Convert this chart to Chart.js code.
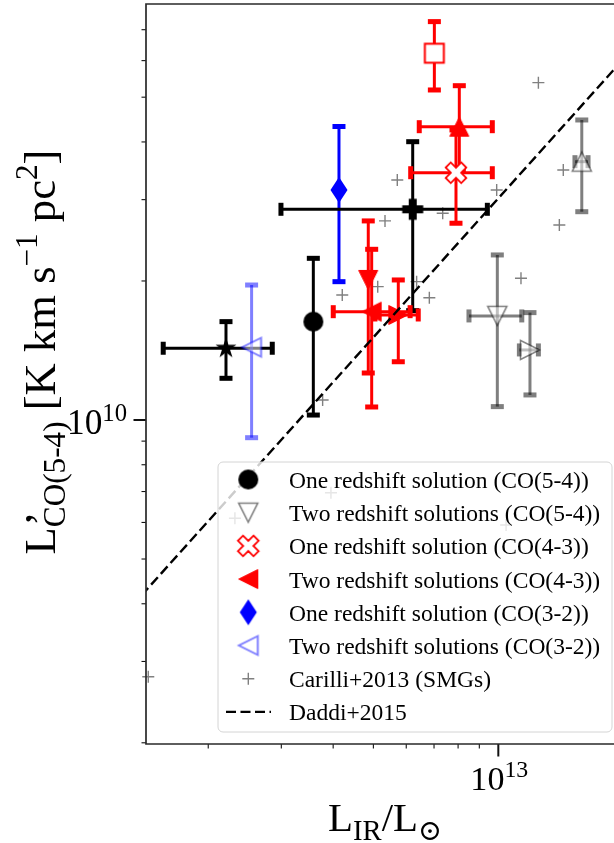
<!DOCTYPE html>
<html>
<head>
<meta charset="utf-8">
<script src="https://cdn.jsdelivr.net/npm/chart.js@4.4.0/dist/chart.umd.min.js"></script>
<style>
  html, body { margin: 0; padding: 0; background: #fff; overflow: hidden; }
  canvas { display: block; }
</style>
</head>
<body>
<canvas id="chart" width="614" height="843"></canvas>
<script>
// axis limits and ticks (log scales)
const xMin = 1.416e12, xMax = 1.90e13;
const yMin = 1.988e9, yMax = 7.957e10;
const xMajorTicks = [1e13];
const xMinorTicks = [2e12, 3e12, 4e12, 5e12, 6e12, 7e12, 8e12, 9e12];
const yMajorTicks = [1e10];
const yMinorTicks = [2e9, 3e9, 4e9, 5e9, 6e9, 7e9, 8e9, 9e9, 2e10, 3e10, 4e10, 5e10, 6e10, 7e10];

// black star (no legend entry)
const starX = [2.207e12], starY = [1.430e10];
const starXErr = [[1.558e12, 2.853e12]], starYErr = [[1.231e10, 1.633e10]];

// one redshift solution, CO(5-4)
const one54X = [3.583e12], one54Y = [1.633e10];
const one54YErr = [[1.025e10, 2.239e10]];

// black filled plus
const plusX = [6.219e12], plusY = [2.859e10];
const plusXErr = [[2.994e12, 9.41e12]], plusYErr = [[1.725e10, 4.005e10]];

// one redshift solution, CO(3-2)
const one32X = [4.131e12], one32Y = [3.148e10];
const one32YErr = [[1.993e10, 4.32e10]];

// two redshift solutions, CO(3-2)
const two32X = [2.544e12], two32Y = [1.437e10];
const two32YErr = [[9.155e9, 1.960e10]];

// red open square
const squareX = [7.013e12], squareY = [6.225e10];
const squareYErr = [[5.183e10, 7.288e10]];

// one redshift solution, CO(4-3)
const one43X = [7.907e12], one43Y = [3.431e10];
const one43XErr = [[6.150e12, 9.672e12]], one43YErr = [[2.667e10, 4.246e10]];

// two redshift solutions, CO(4-3): up, down, left, right triangles
const upRedX = [8.054e12], upRedY = [4.316e10];
const upRedXErr = [[6.449e12, 9.672e12]], upRedYErr = [[3.478e10, 5.295e10]];
const downRedX = [4.86e12], downRedY = [2.010e10];
const downRedYErr = [[1.264e10, 2.698e10]];
const leftRedX = [4.953e12], leftRedY = [1.716e10];
const leftRedXErr = [[4.002e12, 6.13e12]], leftRedYErr = [[1.067e10, 2.342e10]];
const rightRedX = [5.741e12], rightRedY = [1.688e10];
const rightRedXErr = [[5.044e12, 6.413e12]], rightRedYErr = [[1.337e10, 2.010e10]];

// two redshift solutions, CO(5-4): grey open triangles
const downGreyX = [9.945e12], downGreyY = [1.680e10];
const downGreyXErr = [[8.498e12, 1.139e13]], downGreyYErr = [[1.069e10, 2.277e10]];
const rightGreyX = [1.192e13], rightGreyY = [1.418e10];
const rightGreyXErr = [[1.124e13, 1.249e13]], rightGreyYErr = [[1.133e10, 1.708e10]];
const upGreyX = [1.589e13], upGreyY = [3.625e10];
const upGreyXErr = [[1.530e13, 1.645e13]], upGreyYErr = [[2.825e10, 4.463e10]];

// Carilli+2013 SMGs
const carX = [1.249e13, 1.434e13, 1.403e13, 9.91e12, 5.709e12, 7.345e12, 5.333e12, 4.207e12, 5.122e12,
              6.356e12, 6.820e12, 1.134e13, 3.773e12, 3.951e12, 2.319e12, 1.044e13, 1.434e12];
const carY = [5.376e10, 3.478e10, 2.644e10, 3.148e10, 3.309e10, 2.803e10, 2.698e10, 1.865e10, 1.944e10,
              1.993e10, 1.840e10, 2.027e10, 1.105e10, 6.96e9, 6.125e9, 5.925e9, 2.780e9];

// Daddi+2015 relation, end points
const daddiX = [1.0e12, 2.0e13];
const daddiY = [3.02e9, 6.04e10];

const legendLabels = [
  'One redshift solution (CO(5-4))',
  'Two redshift solutions (CO(5-4))',
  'One redshift solution (CO(4-3))',
  'Two redshift solutions (CO(4-3))',
  'One redshift solution (CO(3-2))',
  'Two redshift solutions (CO(3-2))',
  'Carilli+2013 (SMGs)',
  'Daddi+2015'
];

const FONT = '"Liberation Serif", "DejaVu Serif", serif';
const RED = '#ff0000', BLUE = '#0000ff';
const GREY = 'rgba(0,0,0,0.5)', LIGHTBLUE = 'rgba(0,0,255,0.5)';

// ---- marker images ----
function marker(size, draw) {
  const c = document.createElement('canvas');
  c.width = size; c.height = size;
  const g = c.getContext('2d');
  g.translate(size / 2, size / 2);
  g.lineJoin = 'miter';
  draw(g);
  return c;
}
function triPath(g, r) {
  g.beginPath(); g.moveTo(0, -r); g.lineTo(r, r); g.lineTo(-r, r); g.closePath();
}
function plusPath(g, a, b) {
  const pts = [[-b,-a],[b,-a],[b,-b],[a,-b],[a,b],[b,b],[b,a],[-b,a],[-b,b],[-a,b],[-a,-b],[-b,-b]];
  g.beginPath();
  pts.forEach((p, i) => i ? g.lineTo(p[0], p[1]) : g.moveTo(p[0], p[1]));
  g.closePath();
}
const mCircle = marker(26, g => { g.beginPath(); g.arc(0, 0, 10, 0, Math.PI * 2); g.fillStyle = '#000'; g.fill(); });
const mStar = marker(26, g => {
  g.beginPath();
  for (let i = 0; i < 10; i++) {
    const a = -Math.PI / 2 + i * Math.PI / 5, r = i % 2 ? 4.2 : 11;
    g.lineTo(r * Math.cos(a), r * Math.sin(a));
  }
  g.closePath(); g.fillStyle = '#000'; g.fill();
});
const mPlus = marker(26, g => { plusPath(g, 10.5, 4); g.fillStyle = '#000'; g.fill(); });
const mX = marker(30, g => {
  g.rotate(Math.PI / 4); plusPath(g, 11, 3.6);
  g.fillStyle = '#fff'; g.fill(); g.lineWidth = 1.8; g.strokeStyle = RED; g.stroke();
});
const mDiamond = marker(32, g => {
  g.beginPath(); g.moveTo(0, -13); g.lineTo(8.5, 0); g.lineTo(0, 13); g.lineTo(-8.5, 0); g.closePath();
  g.fillStyle = BLUE; g.fill();
});
const mSquare = marker(26, g => {
  g.beginPath(); g.rect(-9.5, -9.5, 19, 19);
  g.fillStyle = '#fff'; g.fill(); g.lineWidth = 2; g.strokeStyle = RED; g.stroke();
});
const mTriRed = marker(26, g => { triPath(g, 9.5); g.fillStyle = RED; g.fill(); g.lineWidth = 1; g.strokeStyle = RED; g.stroke(); });
const mTriGrey = marker(26, g => {
  triPath(g, 9.5); g.fillStyle = 'rgba(255,255,255,0.5)'; g.fill();
  g.lineWidth = 1.6; g.strokeStyle = GREY; g.stroke();
});
const mTriBlue = marker(26, g => {
  triPath(g, 9.5); g.fillStyle = 'rgba(255,255,255,0.5)'; g.fill();
  g.lineWidth = 1.8; g.strokeStyle = LIGHTBLUE; g.stroke();
});

function pts(xs, ys) { return xs.map((x, i) => ({ x: x, y: ys[i] })); }
function group(xs, ys, xe, ye, color, style, rot) {
  return { data: pts(xs, ys), errX: xe, errY: ye, errColor: color,
           pointStyle: style, pointRotation: rot || 0, pointRadius: 10, clip: false };
}

const datasets = [
  { data: pts(carX, carY), pointStyle: 'cross', pointRadius: 6, borderColor: '#808080',
    pointBorderWidth: 1.4, clip: false },
  group(starX, starY, starXErr, starYErr, '#000', mStar),
  group(two32X, two32Y, null, two32YErr, LIGHTBLUE, mTriBlue, 270),
  group(one54X, one54Y, null, one54YErr, '#000', mCircle),
  group(one32X, one32Y, null, one32YErr, BLUE, mDiamond),
  group(plusX, plusY, plusXErr, plusYErr, '#000', mPlus),
  group(downRedX, downRedY, null, downRedYErr, RED, mTriRed, 180),
  group(leftRedX, leftRedY, leftRedXErr, leftRedYErr, RED, mTriRed, 270),
  group(rightRedX, rightRedY, rightRedXErr, rightRedYErr, RED, mTriRed, 90),
  group(squareX, squareY, null, squareYErr, RED, mSquare),
  group(upRedX, upRedY, upRedXErr, upRedYErr, RED, mTriRed, 0),
  group(one43X, one43Y, one43XErr, one43YErr, RED, mX),
  group(downGreyX, downGreyY, downGreyXErr, downGreyYErr, GREY, mTriGrey, 180),
  group(rightGreyX, rightGreyY, rightGreyXErr, rightGreyYErr, GREY, mTriGrey, 90),
  group(upGreyX, upGreyY, upGreyXErr, upGreyYErr, GREY, mTriGrey, 0),
  { type: 'line', data: pts(daddiX, daddiY), borderColor: '#000', borderWidth: 2.4,
    borderDash: [10, 4.5], pointRadius: 0, fill: false, clip: 0 }
];
// first entry drawn first
datasets.forEach((d, i) => { d.order = datasets.length - i; });

const CAP = 13, CAPT = 5;
const errorBars = {
  id: 'errorBars',
  beforeDatasetDraw(chart, args) {
    const ds = chart.data.datasets[args.index];
    if (!ds.errX && !ds.errY) return;
    const { ctx, chartArea: a } = chart;
    const xs = chart.scales.x, ys = chart.scales.y;
    ctx.save();
    ctx.beginPath(); ctx.rect(a.left, a.top, a.right - a.left, a.bottom - a.top); ctx.clip();
    ctx.strokeStyle = ds.errColor; ctx.fillStyle = ds.errColor; ctx.lineWidth = 3;
    ds.data.forEach((p, i) => {
      const px = xs.getPixelForValue(p.x), py = ys.getPixelForValue(p.y);
      const caps = [];
      if (ds.errY && ds.errY[i]) {
        const lo = ys.getPixelForValue(ds.errY[i][0]), hi = ys.getPixelForValue(ds.errY[i][1]);
        ctx.beginPath(); ctx.moveTo(px, lo); ctx.lineTo(px, hi); ctx.stroke();
        caps.push([px - CAP / 2, lo - CAPT / 2, CAP, CAPT], [px - CAP / 2, hi - CAPT / 2, CAP, CAPT]);
      }
      if (ds.errX && ds.errX[i]) {
        const lo = xs.getPixelForValue(ds.errX[i][0]), hi = xs.getPixelForValue(ds.errX[i][1]);
        ctx.beginPath(); ctx.moveTo(lo, py); ctx.lineTo(hi, py); ctx.stroke();
        caps.push([lo - CAPT / 2, py - CAP / 2, CAPT, CAP], [hi - CAPT / 2, py - CAP / 2, CAPT, CAP]);
      }
      caps.forEach(c => ctx.fillRect(c[0], c[1], c[2], c[3]));
    });
    ctx.restore();
  }
};

// ---- text helpers (runs with sub/superscripts) ----
function runsWidth(ctx, runs, F) {
  let w = 0;
  runs.forEach(r => {
    ctx.font = ((r.s || 1) * F) + 'px ' + FONT;
    if (r.adv !== false) w += ctx.measureText(r.t).width;
  });
  return w;
}
function fitSize(ctx, runs, target) { return 100 * target / runsWidth(ctx, runs, 100); }
function drawRuns(ctx, runs, x, y, F, align) {
  const W = runsWidth(ctx, runs, F);
  let ox = align === 'center' ? x - W / 2 : align === 'right' ? x - W : x;
  ctx.textAlign = 'left'; ctx.textBaseline = 'alphabetic'; ctx.fillStyle = '#000';
  runs.forEach(r => {
    ctx.font = ((r.s || 1) * F) + 'px ' + FONT;
    ctx.fillText(r.t, ox + (r.dx || 0) * F, y + (r.dy || 0) * F);
    if (r.adv !== false) ox += ctx.measureText(r.t).width;
  });
}

const yTitleRuns = [
  { t: 'L' }, { t: '\u2019', adv: false, dx: 0.02 }, { t: 'CO(5-4)', s: 0.7, dy: 0.22 },
  { t: ' [K km s' }, { t: '\u22121', s: 0.7, dy: -0.4 }, { t: ' pc' }, { t: '2', s: 0.7, dy: -0.4 }, { t: ']' }
];
const xTitleRuns = [{ t: 'L' }, { t: 'IR', s: 0.7, dy: 0.22 }, { t: '/L' }, { t: '\u2299', s: 0.7, dy: 0.22 }];
const powRuns = e => [{ t: '10' }, { t: String(e), s: 0.7, dy: -0.38 }];

const frame = {
  id: 'frame',
  afterDatasetsDraw(chart) {
    const { ctx, chartArea: a } = chart;
    const xs = chart.scales.x, ys = chart.scales.y;
    ctx.save();
    // ticks
    ctx.strokeStyle = '#111';
    const tick = (x1, y1, x2, y2, w) => { ctx.lineWidth = w; ctx.beginPath(); ctx.moveTo(x1, y1); ctx.lineTo(x2, y2); ctx.stroke(); };
    xMinorTicks.forEach(v => { const p = xs.getPixelForValue(v); tick(p, a.bottom, p, a.bottom + 4.5, 1.1); });
    xMajorTicks.forEach(v => { const p = xs.getPixelForValue(v); tick(p, a.bottom, p, a.bottom + 12.5, 2); });
    yMinorTicks.forEach(v => { const p = ys.getPixelForValue(v); tick(a.left, p, a.left - 4.5, p, 1.1); });
    yMajorTicks.forEach(v => { const p = ys.getPixelForValue(v); tick(a.left, p, a.left - 12.5, p, 2); });
    // spines
    ctx.strokeStyle = '#2a2a2a'; ctx.lineWidth = 1.7;
    ctx.beginPath();
    ctx.moveTo(a.right + 2, a.top); ctx.lineTo(a.left, a.top); ctx.lineTo(a.left, a.bottom); ctx.lineTo(a.right + 2, a.bottom);
    ctx.stroke();
    // tick labels
    xMajorTicks.forEach(v => {
      const r = powRuns(Math.round(Math.log10(v)));
      drawRuns(ctx, r, xs.getPixelForValue(v) + 1, 790, fitSize(ctx, r, 58), 'center');
    });
    yMajorTicks.forEach(v => {
      const r = powRuns(Math.round(Math.log10(v)));
      drawRuns(ctx, r, a.left - 19, ys.getPixelForValue(v) + 14, fitSize(ctx, r, 60), 'right');
    });
    // axis titles
    drawRuns(ctx, xTitleRuns, 385, 831, fitSize(ctx, xTitleRuns, 114), 'center');
    ctx.save();
    ctx.translate(55, 352); ctx.rotate(-Math.PI / 2);
    drawRuns(ctx, yTitleRuns, 0, 0, fitSize(ctx, yTitleRuns, 405), 'center');
    ctx.restore();
    ctx.restore();
  },
  afterDraw(chart) {
    const ctx = chart.ctx;
    const bx = 218, by = 462, bw = 394, bh = 270, rad = 5;
    ctx.save();
    ctx.beginPath();
    ctx.moveTo(bx + rad, by); ctx.arcTo(bx + bw, by, bx + bw, by + bh, rad); ctx.arcTo(bx + bw, by + bh, bx, by + bh, rad);
    ctx.arcTo(bx, by + bh, bx, by, rad); ctx.arcTo(bx, by, bx + bw, by, rad); ctx.closePath();
    ctx.fillStyle = 'rgba(255,255,255,0.8)'; ctx.fill();
    ctx.strokeStyle = '#d4d4d4'; ctx.lineWidth = 1; ctx.stroke();

    const mx = 248.3, row0 = 479.5, step = 33.2;
    const icons = [[mCircle, 0], [mTriGrey, 180], [mX, 0], [mTriRed, 270], [mDiamond, 0], [mTriBlue, 270], ['plus'], ['dash']];
    const F = fitSize(ctx, [{ t: legendLabels[0] }], 300);
    legendLabels.forEach((label, i) => {
      const cy = row0 + i * step;
      const ic = icons[i];
      if (ic[0] === 'plus') {
        ctx.strokeStyle = '#808080'; ctx.lineWidth = 1.4;
        ctx.beginPath(); ctx.moveTo(mx - 6, cy); ctx.lineTo(mx + 6, cy); ctx.moveTo(mx, cy - 6); ctx.lineTo(mx, cy + 6); ctx.stroke();
      } else if (ic[0] === 'dash') {
        ctx.strokeStyle = '#000'; ctx.lineWidth = 2.4; ctx.setLineDash([10, 4.5]);
        ctx.beginPath(); ctx.moveTo(226, cy); ctx.lineTo(271, cy); ctx.stroke(); ctx.setLineDash([]);
      } else {
        ctx.save(); ctx.translate(mx, cy); ctx.rotate(ic[1] * Math.PI / 180);
        ctx.drawImage(ic[0], -ic[0].width / 2, -ic[0].height / 2); ctx.restore();
      }
      drawRuns(ctx, [{ t: label }], 289, cy + 8.5, F, 'left');
    });
    ctx.restore();
  }
};

new Chart(document.getElementById('chart'), {
  type: 'scatter',
  data: { datasets: datasets },
  options: {
    responsive: false,
    animation: false,
    devicePixelRatio: 1,
    layout: { autoPadding: false, padding: { left: 146, top: 4, right: 0, bottom: 99 } },
    scales: {
      x: { type: 'logarithmic', min: xMin, max: xMax, display: false },
      y: { type: 'logarithmic', min: yMin, max: yMax, display: false }
    },
    plugins: { legend: { display: false }, tooltip: { enabled: false } },
    events: []
  },
  plugins: [errorBars, frame]
});
</script>
</body>
</html>
